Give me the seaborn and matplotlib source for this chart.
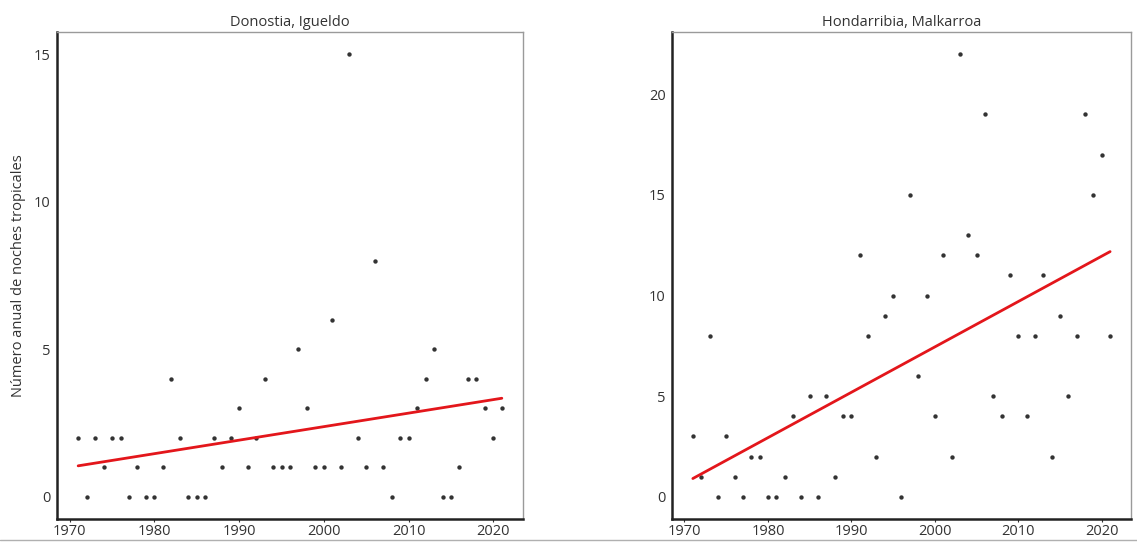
import matplotlib
matplotlib.use("Agg")
import numpy as np
import pandas as pd
import matplotlib.pyplot as plt
import seaborn as sns
from matplotlib.lines import Line2D

years = list(range(1971, 2022))

# Donostia, Igueldo
igueldo = [2, 0, 2, 1, 2, 2, 0, 1, 0, 0,
           1, 4, 2, 0, 0, 0, 2, 1, 2, 3,
           1, 2, 4, 1, 1, 1, 5, 3, 1, 1,
           6, 1, 15, 2, 1, 8, 1, 0, 2, 2,
           3, 4, 5, 0, 0, 1, 4, 4, 3, 2,
           3]

# Hondarribia, Malkarroa
malkarroa = [3, 1, 8, 0, 3, 1, 0, 2, 2, 0,
             0, 1, 4, 0, 5, 0, 5, 1, 4, 4,
             12, 8, 2, 9, 10, 0, 15, 6, 10, 4,
             12, 2, 22, 13, 12, 19, 5, 4, 11, 8,
             4, 8, 11, 2, 9, 5, 8, 19, 15, 17,
             8]

titles = ["Donostia, Igueldo", "Hondarribia, Malkarroa"]
yticks = [[0, 5, 10, 15], [0, 5, 10, 15, 20]]
xticks = [1970, 1980, 1990, 2000, 2010, 2020]
ylabel = "Número anual de noches tropicales"

sns.set_style("white")
plt.rcParams['font.family'] = ['Open Sans', 'DejaVu Sans']

fig = plt.figure(figsize=(11.37, 5.43), dpi=100)
ax1 = fig.add_axes([0.0501, 0.0442, 0.4099, 0.8969])
ax2 = fig.add_axes([0.591, 0.0442, 0.4037, 0.8969])

for ax, vals, title, yt in zip([ax1, ax2], [igueldo, malkarroa], titles, yticks):
    df = pd.DataFrame({"year": years, "nights": vals})
    sns.regplot(data=df, x="year", y="nights", ax=ax, ci=None,
                scatter_kws={"s": 10, "color": "black", "linewidths": 0},
                line_kws={"color": "#e3161b", "linewidth": 2})
    ax.set_title(title, fontsize=10.5, color="#333333", pad=4)
    ax.set_xlabel("")
    ax.set_ylabel("")
    ax.set_xticks(xticks)
    ax.set_yticks(yt)
    ax.tick_params(axis="both", labelsize=10.5, colors="#333333", length=3,
                   width=0.8, pad=1.5, direction="out")
    ax.tick_params(axis="x", bottom=True, length=2)
    for side in ["left", "bottom"]:
        ax.spines[side].set_color("#222222")
        ax.spines[side].set_linewidth(1.8)
    for side in ["top", "right"]:
        ax.spines[side].set_color("#9a9a9a")
        ax.spines[side].set_linewidth(1.0)

ax1.set_ylabel(ylabel, fontsize=10.5, color="#333333", labelpad=6)

# thin grey rule under the figure
fig.add_artist(Line2D([0, 1], [0.006, 0.006], transform=fig.transFigure,
                      color="#b0b0b0", linewidth=1))

fig.savefig("out.png", dpi=100)
plt.close(fig)
